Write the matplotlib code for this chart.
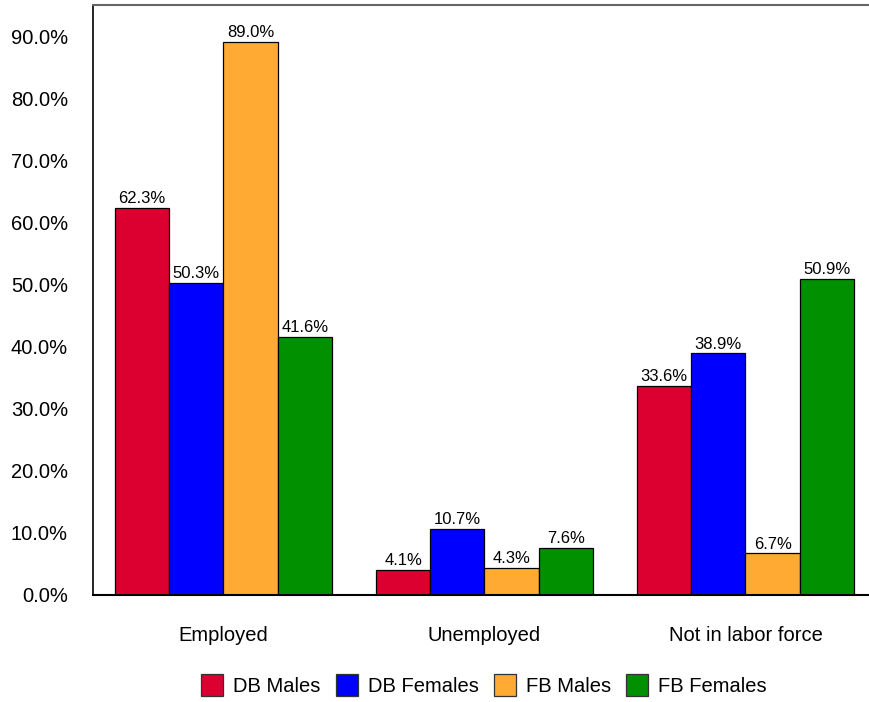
import matplotlib
matplotlib.use("Agg")
import matplotlib.pyplot as plt
import numpy as np
from matplotlib.patches import Patch

plt.rcParams['font.family'] = ['Liberation Sans', 'DejaVu Sans']

categories = ["Employed", "Unemployed", "Not in labor force"]
series_names = ["DB Males", "DB Females", "FB Males", "FB Females"]
db_males = [62.3, 4.1, 33.6]
db_females = [50.3, 10.7, 38.9]
fb_males = [89.0, 4.3, 6.7]
fb_females = [41.6, 7.6, 50.9]
yticks = [0, 10, 20, 30, 40, 50, 60, 70, 80, 90]

series = [db_males, db_females, fb_males, fb_females]
colors = ["#DC0030", "#0000FF", "#FFAA33", "#009000"]

fig = plt.figure(figsize=(8.7, 7.02), dpi=100)
ax = fig.add_axes([93 / 870, 1 - 595 / 702, 783 / 870, 590 / 702])

x = np.arange(len(categories))
w = 0.208
for i, (vals, c) in enumerate(zip(series, colors)):
    pos = x + (i - 1.5) * w
    bars = ax.bar(pos, vals, width=w, color=c, edgecolor="black", linewidth=0.9)
    for b, v in zip(bars, vals):
        ax.text(b.get_x() + b.get_width() / 2, v + 0.3, f"{v:.1f}%",
                ha="center", va="bottom", fontsize=12)

ax.set_xlim(-0.5, 2.5)
ax.set_ylim(0, 95)
ax.set_xticks(x)
ax.set_xticklabels(categories, fontsize=14.5)
ax.set_yticks(yticks)
ax.set_yticklabels([f"{t:.1f}%" for t in yticks], fontsize=14.5)
ax.tick_params(axis="x", length=0, pad=22)
ax.tick_params(axis="y", length=0, pad=18)

ax.spines["right"].set_visible(False)
ax.spines["left"].set_color("black")
ax.spines["left"].set_linewidth(1.2)
ax.spines["bottom"].set_color("black")
ax.spines["bottom"].set_linewidth(1.5)
ax.spines["top"].set_color("#666666")
ax.spines["top"].set_linewidth(1.5)

handles = [Patch(facecolor=c, edgecolor="#333333", linewidth=0.9) for c in colors]
fig.legend(handles, series_names, loc="center", bbox_to_anchor=(484 / 870, 1 - 685 / 702),
           ncol=4, frameon=False, fontsize=14.5, handlelength=1.1, handleheight=1.3,
           handletextpad=0.5, columnspacing=0.75)

fig.savefig("out.png", dpi=100)
